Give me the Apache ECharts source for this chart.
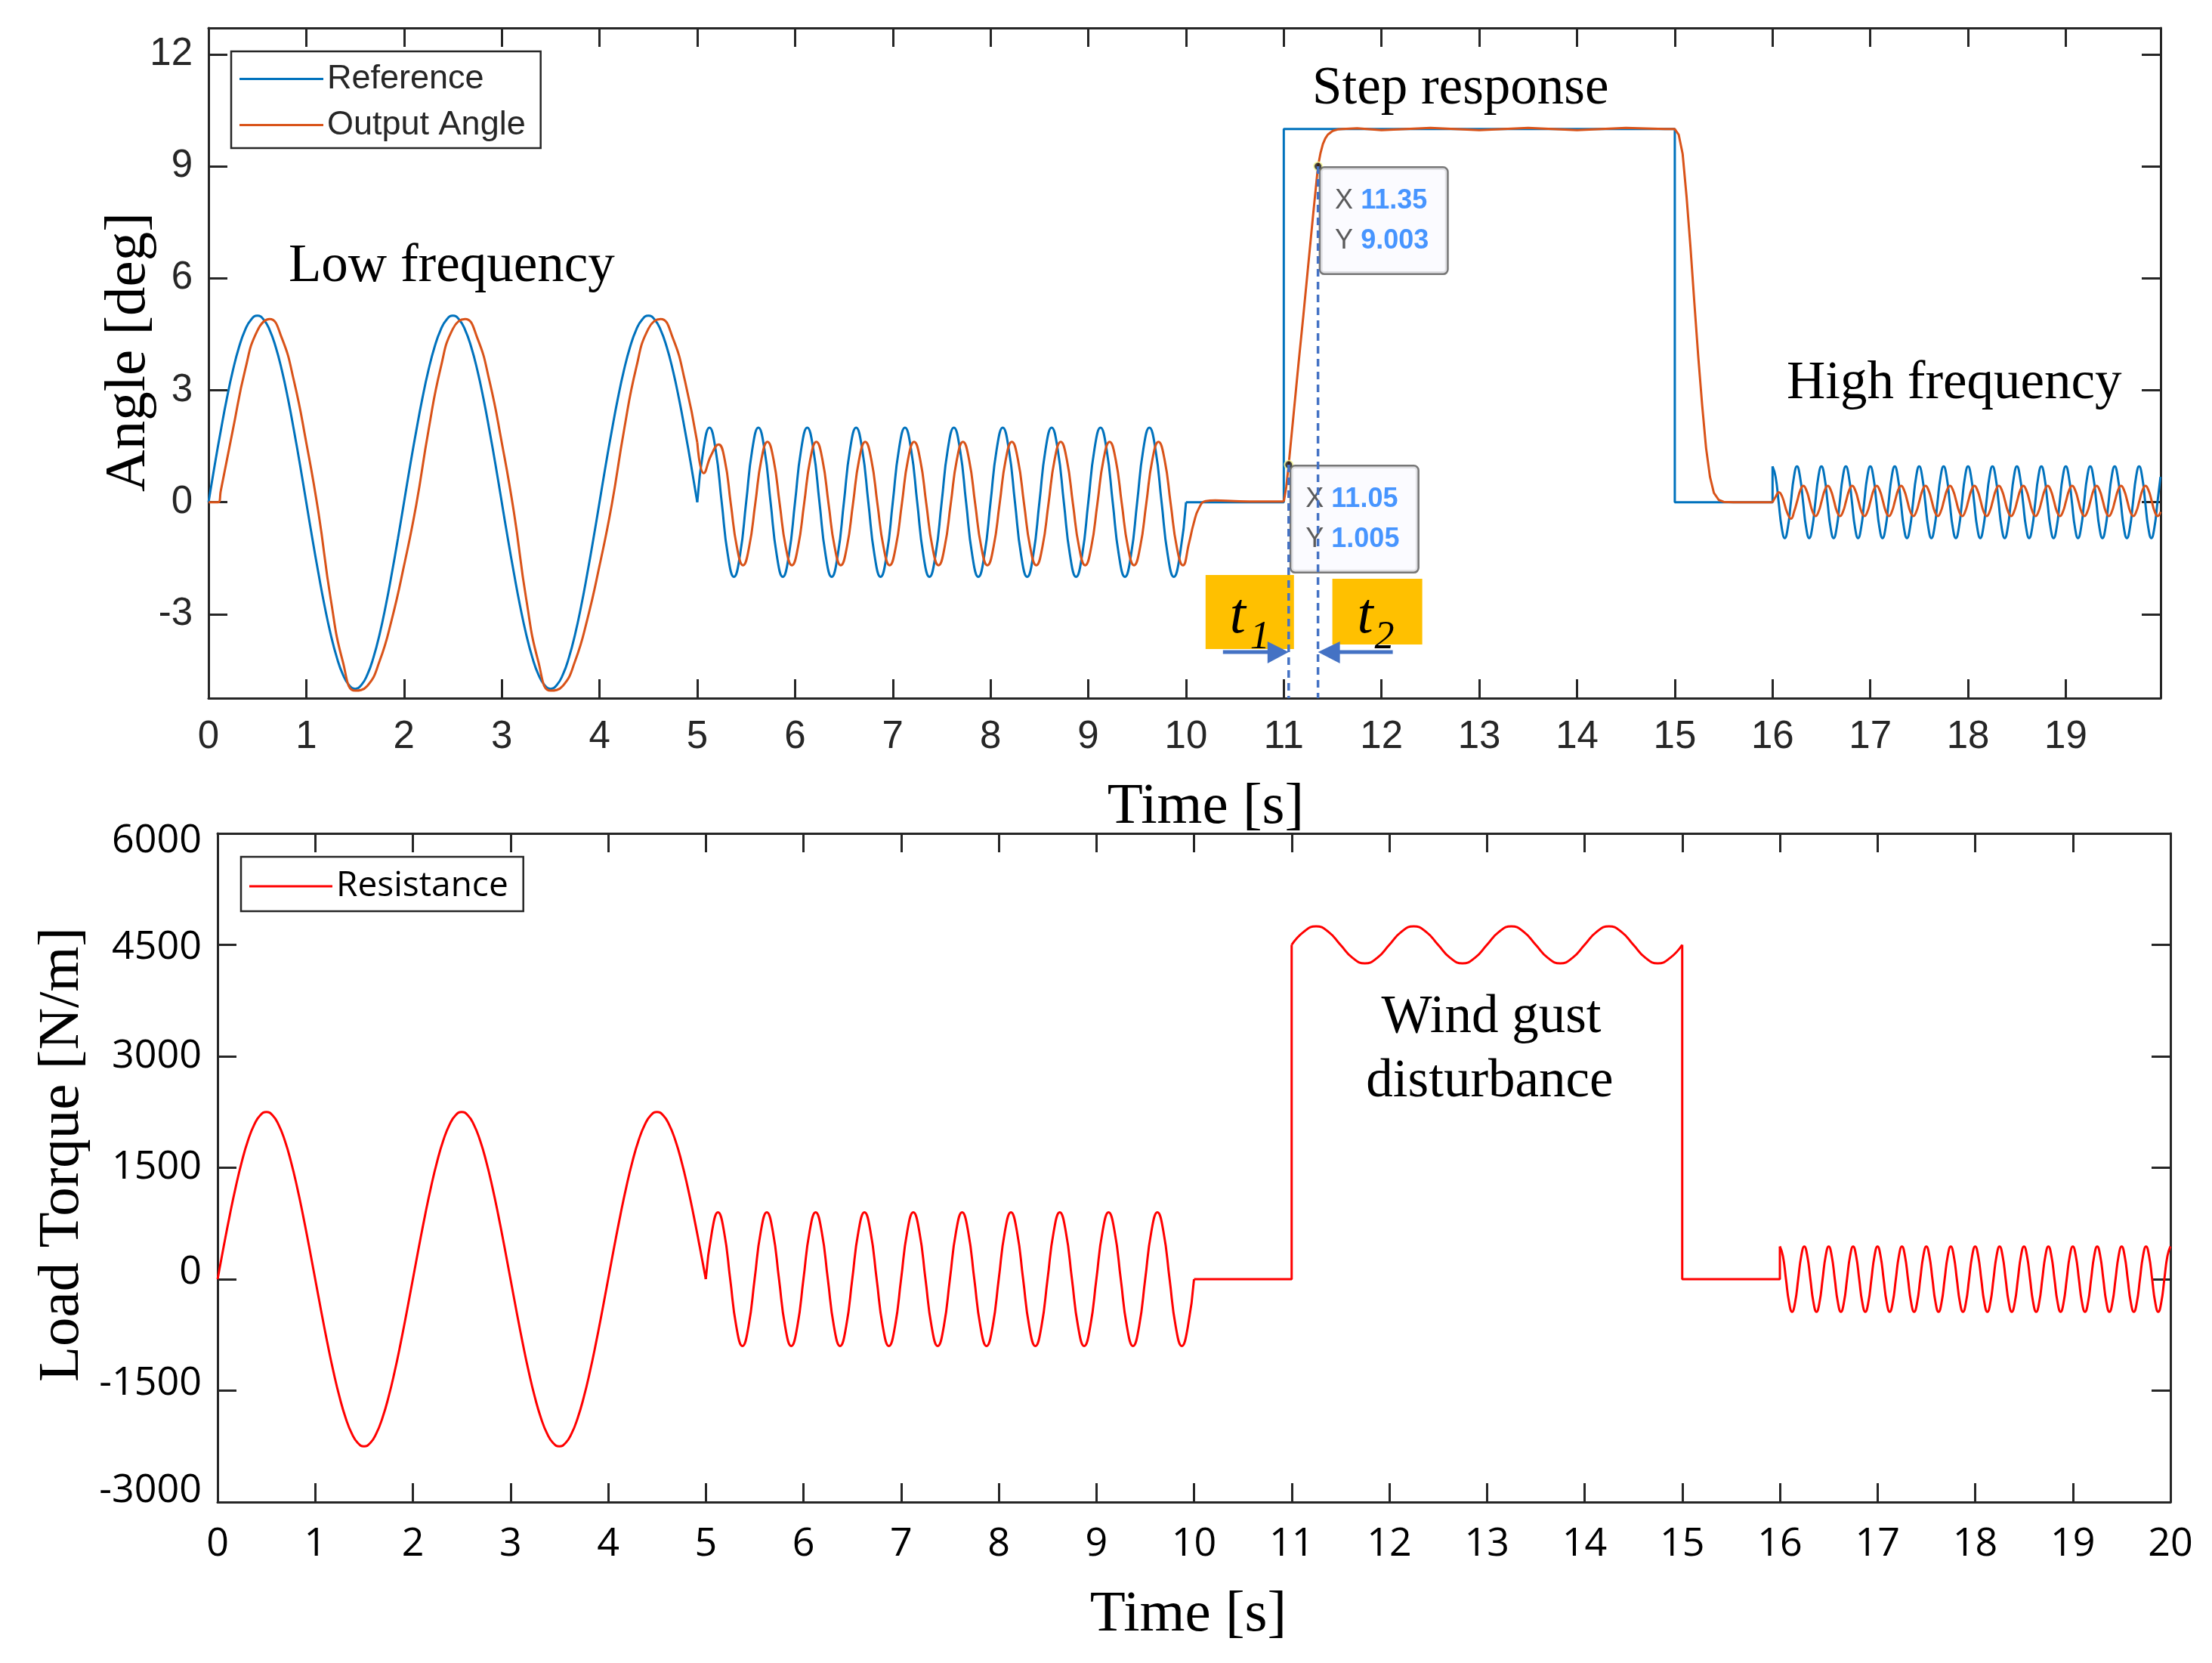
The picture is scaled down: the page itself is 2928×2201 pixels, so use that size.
<!DOCTYPE html>
<html><head><meta charset="utf-8">
<script src="https://cdn.jsdelivr.net/npm/echarts@6/dist/echarts.min.js"></script>
<style>html,body{margin:0;padding:0;background:#fff}#c{width:2928px;height:2201px}</style>
</head><body><div id="c"></div>
<script>
// ---------- shared time grids ----------
const tLow = [0,0.0625,0.125,0.1875,0.25,0.3125,0.375,0.4375,
0.5,0.5625,0.625,0.6875,0.75,0.8125,0.875,0.9375,
1,1.0625,1.125,1.1875,1.25,1.3125,1.375,1.4375,
1.5,1.5625,1.625,1.6875,1.75,1.8125,1.875,1.9375,
2,2.0625,2.125,2.1875,2.25,2.3125,2.375,2.4375,
2.5,2.5625,2.625,2.6875,2.75,2.8125,2.875,2.9375,
3,3.0625,3.125,3.1875,3.25,3.3125,3.375,3.4375,
3.5,3.5625,3.625,3.6875,3.75,3.8125,3.875,3.9375,
4,4.0625,4.125,4.1875,4.25,4.3125,4.375,4.4375,
4.5,4.5625,4.625,4.6875,4.75,4.8125,4.875,4.9375,
5];
const tMid = [5,5.0625,5.125,5.1875,5.25,5.3125,5.375,5.4375,
5.5,5.5625,5.625,5.6875,5.75,5.8125,5.875,5.9375,
6,6.0625,6.125,6.1875,6.25,6.3125,6.375,6.4375,
6.5,6.5625,6.625,6.6875,6.75,6.8125,6.875,6.9375,
7,7.0625,7.125,7.1875,7.25,7.3125,7.375,7.4375,
7.5,7.5625,7.625,7.6875,7.75,7.8125,7.875,7.9375,
8,8.0625,8.125,8.1875,8.25,8.3125,8.375,8.4375,
8.5,8.5625,8.625,8.6875,8.75,8.8125,8.875,8.9375,
9,9.0625,9.125,9.1875,9.25,9.3125,9.375,9.4375,
9.5,9.5625,9.625,9.6875,9.75,9.8125,9.875,9.9375,
10];
const tHigh = [16,16.03125,16.0625,16.09375,16.125,16.15625,16.1875,16.21875,
16.25,16.28125,16.3125,16.34375,16.375,16.40625,16.4375,16.46875,
16.5,16.53125,16.5625,16.59375,16.625,16.65625,16.6875,16.71875,
16.75,16.78125,16.8125,16.84375,16.875,16.90625,16.9375,16.96875,
17,17.03125,17.0625,17.09375,17.125,17.15625,17.1875,17.21875,
17.25,17.28125,17.3125,17.34375,17.375,17.40625,17.4375,17.46875,
17.5,17.53125,17.5625,17.59375,17.625,17.65625,17.6875,17.71875,
17.75,17.78125,17.8125,17.84375,17.875,17.90625,17.9375,17.96875,
18,18.03125,18.0625,18.09375,18.125,18.15625,18.1875,18.21875,
18.25,18.28125,18.3125,18.34375,18.375,18.40625,18.4375,18.46875,
18.5,18.53125,18.5625,18.59375,18.625,18.65625,18.6875,18.71875,
18.75,18.78125,18.8125,18.84375,18.875,18.90625,18.9375,18.96875,
19,19.03125,19.0625,19.09375,19.125,19.15625,19.1875,19.21875,
19.25,19.28125,19.3125,19.34375,19.375,19.40625,19.4375,19.46875,
19.5,19.53125,19.5625,19.59375,19.625,19.65625,19.6875,19.71875,
19.75,19.78125,19.8125,19.84375,19.875,19.90625,19.9375,19.96875,
20];
const tGust = [11,11.125,11.25,11.375,11.5,11.625,11.75,11.875,12,12.125,12.25,12.375,12.5,12.625,12.75,12.875,13,13.125,13.25,13.375,13.5,13.625,13.75,13.875,14,14.125,14.25,14.375,14.5,14.625,14.75,14.875,15];

// ---------- Reference [deg] ----------
const refLowY = [0,0.98,1.91,2.78,3.54,4.16,4.62,4.9,5,4.9,4.62,4.16,3.54,2.78,1.91,0.98,
0,-0.98,-1.91,-2.78,-3.54,-4.16,-4.62,-4.9,-5,-4.9,-4.62,-4.16,-3.54,-2.78,-1.91,-0.98,
0,0.98,1.91,2.78,3.54,4.16,4.62,4.9,5,4.9,4.62,4.16,3.54,2.78,1.91,0.98,
0,-0.98,-1.91,-2.78,-3.54,-4.16,-4.62,-4.9,-5,-4.9,-4.62,-4.16,-3.54,-2.78,-1.91,-0.98,
0,0.98,1.91,2.78,3.54,4.16,4.62,4.9,5,4.9,4.62,4.16,3.54,2.78,1.91,0.98,
0];
const refMidY = [0,1.41,2,1.41,0,-1.41,-2,-1.41, 0,1.41,2,1.41,0,-1.41,-2,-1.41,
0,1.41,2,1.41,0,-1.41,-2,-1.41, 0,1.41,2,1.41,0,-1.41,-2,-1.41,
0,1.41,2,1.41,0,-1.41,-2,-1.41, 0,1.41,2,1.41,0,-1.41,-2,-1.41,
0,1.41,2,1.41,0,-1.41,-2,-1.41, 0,1.41,2,1.41,0,-1.41,-2,-1.41,
0,1.41,2,1.41,0,-1.41,-2,-1.41, 0,1.41,2,1.41,0,-1.41,-2,-1.41, 0];
const refStepT = [10,11,11,15,15,16,16];
const refStepY = [0,0,10,10,0,0,0.96];
const refHighY = [0.96,0.68,0,-0.68,-0.96,-0.68,0,0.68, 0.96,0.68,0,-0.68,-0.96,-0.68,0,0.68,
0.96,0.68,0,-0.68,-0.96,-0.68,0,0.68, 0.96,0.68,0,-0.68,-0.96,-0.68,0,0.68,
0.96,0.68,0,-0.68,-0.96,-0.68,0,0.68, 0.96,0.68,0,-0.68,-0.96,-0.68,0,0.68,
0.96,0.68,0,-0.68,-0.96,-0.68,0,0.68, 0.96,0.68,0,-0.68,-0.96,-0.68,0,0.68,
0.96,0.68,0,-0.68,-0.96,-0.68,0,0.68, 0.96,0.68,0,-0.68,-0.96,-0.68,0,0.68,
0.96,0.68,0,-0.68,-0.96,-0.68,0,0.68, 0.96,0.68,0,-0.68,-0.96,-0.68,0,0.68,
0.96,0.68,0,-0.68,-0.96,-0.68,0,0.68, 0.96,0.68,0,-0.68,-0.96,-0.68,0,0.68,
0.96,0.68,0,-0.68,-0.96,-0.68,0,0.68, 0.96,0.68,0,-0.68,-0.96,-0.68,0,0.68];

// ---------- Output Angle [deg] ----------
const outLowT = [0,0.1,0.125,0.25,0.375,0.5,0.625,0.75,0.875,1,1.125,1.25,1.375,1.5,1.625,1.75,1.875,2,2.125,2.25,2.375,2.5,2.625,2.75,2.875,3,3.125,3.25,3.375,3.5,3.625,3.75,3.875,4,4.125,4.25,4.375,4.5,4.625,4.75,4.875,5];
const outLowY = [0,0,0.3,1.95,3.55,4.6,4.91,4.4,3.24,1.6,-0.28,-2.59,-4.28,-5.05,-4.92,-4.26,-3.14,-1.7,-0.07,1.92,3.6,4.65,4.91,4.4,3.24,1.6,-0.28,-2.59,-4.28,-5.05,-4.92,-4.26,-3.14,-1.7,-0.07,1.92,3.6,4.65,4.91,4.4,3.24,1.6];
const outMidT = [5,5.067,5.14,5.218,
5.2805,5.343,5.4055,5.468,5.5305,5.593,5.6555,5.718,
5.7805,5.843,5.9055,5.968,6.0305,6.093,6.1555,6.218,
6.2805,6.343,6.4055,6.468,6.5305,6.593,6.6555,6.718,
6.7805,6.843,6.9055,6.968,7.0305,7.093,7.1555,7.218,
7.2805,7.343,7.4055,7.468,7.5305,7.593,7.6555,7.718,
7.7805,7.843,7.9055,7.968,8.0305,8.093,8.1555,8.218,
8.2805,8.343,8.4055,8.468,8.5305,8.593,8.6555,8.718,
8.7805,8.843,8.9055,8.968,9.0305,9.093,9.1555,9.218,
9.2805,9.343,9.4055,9.468,9.5305,9.593,9.6555,9.718,
9.7805,9.843,9.9055,9.968,
10.03,10.08,10.13,10.2,10.3,10.5,10.75,11];
const outMidY = [1.6,0.78,1.25,1.55,
1.14,-0.04,-1.2,-1.69,-1.2,-0.04,1.14,1.62,
1.14,-0.04,-1.2,-1.69,-1.2,-0.04,1.14,1.62,
1.14,-0.04,-1.2,-1.69,-1.2,-0.04,1.14,1.62,
1.14,-0.04,-1.2,-1.69,-1.2,-0.04,1.14,1.62,
1.14,-0.04,-1.2,-1.69,-1.2,-0.04,1.14,1.62,
1.14,-0.04,-1.2,-1.69,-1.2,-0.04,1.14,1.62,
1.14,-0.04,-1.2,-1.69,-1.2,-0.04,1.14,1.62,
1.14,-0.04,-1.2,-1.69,-1.2,-0.04,1.14,1.62,
1.14,-0.04,-1.2,-1.69,-1.2,-0.04,1.14,1.62,
1.14,-0.04,-1.2,-1.69,
-1.1,-0.55,-0.17,0.03,0.05,0.03,0.02,0.02];
const outStepT = [11,11.025,11.05,11.1,11.15,11.2,11.25,11.3,11.35,11.375,11.4,11.425,11.45,11.5,11.55,11.6,11.75,12,12.5,13,13.5,14,14.5,14.9,15,15.04,15.08,15.12,15.16,15.2,15.24,15.28,15.32,15.36,15.4,15.45,15.5,15.6,16];
const outStepY = [0.02,0.4,1.005,2.35,3.7,5.0,6.35,7.7,9.003,9.35,9.6,9.75,9.85,9.95,9.99,10.0,10.02,9.97,10.03,9.97,10.03,9.97,10.03,10.0,10.0,9.85,9.34,8.2,6.85,5.35,3.9,2.6,1.45,0.68,0.25,0.06,0.01,0,0];
const outHighT = [16,16.03,16.065,16.1,16.15,
16.19,16.221,16.253,16.284,16.315,16.346,16.378,16.409,
16.44,16.471,16.503,16.534,16.565,16.596,16.628,16.659,
16.69,16.721,16.753,16.784,16.815,16.846,16.878,16.909,
16.94,16.971,17.003,17.034,17.065,17.096,17.128,17.159,
17.19,17.221,17.253,17.284,17.315,17.346,17.378,17.409,
17.44,17.471,17.503,17.534,17.565,17.596,17.628,17.659,
17.69,17.721,17.753,17.784,17.815,17.846,17.878,17.909,
17.94,17.971,18.003,18.034,18.065,18.096,18.128,18.159,
18.19,18.221,18.253,18.284,18.315,18.346,18.378,18.409,
18.44,18.471,18.503,18.534,18.565,18.596,18.628,18.659,
18.69,18.721,18.753,18.784,18.815,18.846,18.878,18.909,
18.94,18.971,19.003,19.034,19.065,19.096,19.128,19.159,
19.19,19.221,19.253,19.284,19.315,19.346,19.378,19.409,
19.44,19.471,19.503,19.534,19.565,19.596,19.628,19.659,
19.69,19.721,19.753,19.784,19.815,19.846,19.878,19.909,
19.94,19.97];
const outHighY = [0,0.14,0.27,0.14,-0.28,
-0.44,-0.25,0.04,0.32,0.44,0.32,0.04,-0.25,
-0.37,-0.25,0.04,0.32,0.44,0.32,0.04,-0.25,
-0.37,-0.25,0.04,0.32,0.44,0.32,0.04,-0.25,
-0.37,-0.25,0.04,0.32,0.44,0.32,0.04,-0.25,
-0.37,-0.25,0.04,0.32,0.44,0.32,0.04,-0.25,
-0.37,-0.25,0.04,0.32,0.44,0.32,0.04,-0.25,
-0.37,-0.25,0.04,0.32,0.44,0.32,0.04,-0.25,
-0.37,-0.25,0.04,0.32,0.44,0.32,0.04,-0.25,
-0.37,-0.25,0.04,0.32,0.44,0.32,0.04,-0.25,
-0.37,-0.25,0.04,0.32,0.44,0.32,0.04,-0.25,
-0.37,-0.25,0.04,0.32,0.44,0.32,0.04,-0.25,
-0.37,-0.25,0.04,0.32,0.44,0.32,0.04,-0.25,
-0.37,-0.25,0.04,0.32,0.44,0.32,0.04,-0.25,
-0.37,-0.25,0.04,0.32,0.44,0.32,0.04,-0.25,
-0.37,-0.25,0.04,0.32,0.44,0.32,0.04,-0.25,
-0.37,-0.26];

// ---------- data tips ----------
const tipX = [11.05, 11.35];
const tipY = [1.005, 9.003];

// ---------- Load torque (Resistance) [N/m] ----------
const torqueLowY = [0,439,861,1250,1591,1871,2079,2207,2250,2207,2079,1871,1591,1250,861,439,
0,-439,-861,-1250,-1591,-1871,-2079,-2207,-2250,-2207,-2079,-1871,-1591,-1250,-861,-439,
0,439,861,1250,1591,1871,2079,2207,2250,2207,2079,1871,1591,1250,861,439,
0,-439,-861,-1250,-1591,-1871,-2079,-2207,-2250,-2207,-2079,-1871,-1591,-1250,-861,-439,
0,439,861,1250,1591,1871,2079,2207,2250,2207,2079,1871,1591,1250,861,439,
0];
const torqueMidY = [0,636,900,636,0,-636,-900,-636, 0,636,900,636,0,-636,-900,-636,
0,636,900,636,0,-636,-900,-636, 0,636,900,636,0,-636,-900,-636,
0,636,900,636,0,-636,-900,-636, 0,636,900,636,0,-636,-900,-636,
0,636,900,636,0,-636,-900,-636, 0,636,900,636,0,-636,-900,-636,
0,636,900,636,0,-636,-900,-636, 0,636,900,636,0,-636,-900,-636, 0];
const torqueStep1T = [10,11,11];
const torqueStep1Y = [0,0,4500];
const torqueGustY = [4500,4677,4750,4677,4500,4323,4250,4323, 4500,4677,4750,4677,4500,4323,4250,4323,
4500,4677,4750,4677,4500,4323,4250,4323, 4500,4677,4750,4677,4500,4323,4250,4323, 4500];
const torqueStep2T = [15,15,16,16];
const torqueStep2Y = [4500,0,0,440];
const torqueHighY = [440,311,0,-311,-440,-311,0,311, 440,311,0,-311,-440,-311,0,311,
440,311,0,-311,-440,-311,0,311, 440,311,0,-311,-440,-311,0,311,
440,311,0,-311,-440,-311,0,311, 440,311,0,-311,-440,-311,0,311,
440,311,0,-311,-440,-311,0,311, 440,311,0,-311,-440,-311,0,311,
440,311,0,-311,-440,-311,0,311, 440,311,0,-311,-440,-311,0,311,
440,311,0,-311,-440,-311,0,311, 440,311,0,-311,-440,-311,0,311,
440,311,0,-311,-440,-311,0,311, 440,311,0,-311,-440,-311,0,311,
440,311,0,-311,-440,-311,0,311, 440,311,0,-311,-440,-311,0,311, 440];

// ---------- tick labels ----------
const topXTicks = [0,1,2,3,4,5,6,7,8,9,10,11,12,13,14,15,16,17,18,19];
const topYTicks = [-3,0,3,6,9,12];
const botXTicks = [0,1,2,3,4,5,6,7,8,9,10,11,12,13,14,15,16,17,18,19,20];
const botYTicks = [-3000,-1500,0,1500,3000,4500,6000];

// ---------- build ----------
function zip(t, y) { const n = Math.min(t.length, y.length); const o = []; for (let i = 0; i < n; i++) o.push([t[i], y[i]]); return o; }

const BLUE = '#0072BD', ORANGE = '#D95319', RED = '#FF0000', AX = '#262626';

function lineSeries(name, data, color, smooth, xi, yi, extra) {
  return Object.assign({
    type: 'line', name: name, data: data, smooth: smooth ? 0.5 : false,
    symbol: 'none', showSymbol: false, xAxisIndex: xi, yAxisIndex: yi,
    lineStyle: { color: color, width: 3 }, itemStyle: { color: color },
    emphasis: { disabled: true }, silent: true, animation: false, z: 2
  }, extra || {});
}

function axisLineCfg() { return { show: true, onZero: false, lineStyle: { color: AX, width: 3 } }; }
function tickCfg(vals) { return { show: true, inside: true, length: 25, customValues: vals, lineStyle: { color: AX, width: 3 } }; }

// label nudges of the lower y axis (as placed in the original figure)
const botYLabelStyle = { '6000': 'd21', '4500': 'd7', '0': 'u17', '-1500': 'u19', '-3000': 'u30' };

const option = {
  backgroundColor: '#ffffff',
  animation: false,
  grid: [
    { left: 276, top: 37, width: 2584, height: 887, containLabel: false },
    { left: 288, top: 1103, width: 2585, height: 885, containLabel: false }
  ],
  xAxis: [
    { gridIndex: 0, type: 'value', min: 0, max: 19.97, position: 'bottom',
      axisLine: axisLineCfg(), axisTick: tickCfg(topXTicks), splitLine: { show: false },
      axisLabel: { show: true, customValues: topXTicks, margin: 26, fontFamily: 'Liberation Sans', fontSize: 51, color: '#262626', formatter: v => String(v) },
      name: 'Time [s]', nameLocation: 'middle', nameGap: 106, nameMoveOverlap: false,
      nameTextStyle: { fontFamily: 'Liberation Serif', fontSize: 77, color: '#000', padding: [0, 0, 0, 56] } },
    { gridIndex: 0, type: 'value', min: 0, max: 19.97, position: 'top',
      axisLine: axisLineCfg(), axisTick: tickCfg(topXTicks), splitLine: { show: false }, axisLabel: { show: false } },
    { gridIndex: 1, type: 'value', min: 0, max: 20, position: 'bottom',
      axisLine: axisLineCfg(), axisTick: tickCfg(botXTicks), splitLine: { show: false },
      axisLabel: { show: true, customValues: botXTicks, margin: 30, fontFamily: 'Open Sans', fontSize: 52, color: '#000', formatter: v => String(v) },
      name: 'Time [s]', nameLocation: 'middle', nameGap: 111, nameMoveOverlap: false,
      nameTextStyle: { fontFamily: 'Liberation Serif', fontSize: 77, color: '#000', padding: [0, 15, 0, 0] } },
    { gridIndex: 1, type: 'value', min: 0, max: 20, position: 'top',
      axisLine: axisLineCfg(), axisTick: tickCfg(botXTicks), splitLine: { show: false }, axisLabel: { show: false } }
  ],
  yAxis: [
    { gridIndex: 0, type: 'value', min: -5.25, max: 12.71, position: 'left',
      axisLine: axisLineCfg(), axisTick: tickCfg(topYTicks), splitLine: { show: false },
      axisLabel: { show: true, customValues: topYTicks, margin: 21, fontFamily: 'Liberation Sans', fontSize: 51, color: '#262626', formatter: v => String(v) },
      name: 'Angle [deg]', nameLocation: 'middle', nameGap: 67, nameMoveOverlap: false,
      nameTextStyle: { fontFamily: 'Liberation Serif', fontSize: 77, color: '#000', padding: [0, 0, 0, 29] } },
    { gridIndex: 0, type: 'value', min: -5.25, max: 12.71, position: 'right',
      axisLine: axisLineCfg(), axisTick: tickCfg(topYTicks), splitLine: { show: false }, axisLabel: { show: false } },
    { gridIndex: 1, type: 'value', min: -3000, max: 6000, position: 'left',
      axisLine: axisLineCfg(), axisTick: tickCfg(botYTicks), splitLine: { show: false },
      axisLabel: { show: true, customValues: botYTicks, margin: 21, fontFamily: 'Open Sans', fontSize: 52, color: '#000',
        formatter: v => { const s = botYLabelStyle[String(v)]; return s ? '{' + s + '|' + String(v) + '}' : String(v); },
        rich: { d21: { padding: [21, 0, 0, 0] }, d7: { padding: [7, 0, 0, 0] }, u17: { padding: [0, 0, 17, 0] }, u19: { padding: [0, 0, 19, 0] }, u30: { padding: [0, 0, 30, 0] } } },
      name: 'Load Torque [N/m]', nameLocation: 'middle', nameGap: 167, nameMoveOverlap: false,
      nameTextStyle: { fontFamily: 'Liberation Serif', fontSize: 77, color: '#000', padding: [0, 0, 0, 35] } },
    { gridIndex: 1, type: 'value', min: -3000, max: 6000, position: 'right',
      axisLine: axisLineCfg(), axisTick: tickCfg(botYTicks), splitLine: { show: false }, axisLabel: { show: false } }
  ],
  legend: [
    { data: [{ name: 'Reference', icon: 'rect' }, { name: 'Output Angle', icon: 'rect' }], orient: 'vertical', left: 306, top: 68,
      itemWidth: 111, itemHeight: 3, itemGap: 16, padding: [14, 20, 8, 11],
      borderColor: AX, borderWidth: 2.5, backgroundColor: '#fff', selectedMode: false,
      textStyle: { fontFamily: 'Liberation Sans', fontSize: 45, color: '#262626', lineHeight: 45 } },
    { data: [{ name: 'Resistance', icon: 'rect' }], orient: 'vertical', left: 319, top: 1134,
      itemWidth: 110, itemHeight: 3, padding: [16, 20, 10, 11],
      borderColor: AX, borderWidth: 2.5, backgroundColor: '#fff', selectedMode: false,
      textStyle: { fontFamily: 'Open Sans', fontSize: 46, color: '#000', lineHeight: 46 } }
  ],
  series: [
    lineSeries('Reference', zip(tLow, refLowY), BLUE, true, 0, 0),
    lineSeries('Reference', zip(tMid, refMidY), BLUE, true, 0, 0),
    lineSeries('Reference', zip(refStepT, refStepY), BLUE, false, 0, 0),
    lineSeries('Reference', zip(tHigh, refHighY), BLUE, true, 0, 0),
    lineSeries('Output Angle', zip(outLowT, outLowY), ORANGE, true, 0, 0),
    lineSeries('Output Angle', zip(outMidT, outMidY), ORANGE, true, 0, 0),
    lineSeries('Output Angle', zip(outStepT, outStepY), ORANGE, false, 0, 0),
    lineSeries('Output Angle', zip(outHighT, outHighY), ORANGE, true, 0, 0),
    { type: 'scatter', name: 'tips', xAxisIndex: 0, yAxisIndex: 0, z: 5, silent: true,
      data: zip(tipX, tipY), symbol: 'circle', symbolSize: 11,
      itemStyle: { color: '#111', borderColor: '#ffffa0', borderWidth: 2 },
      emphasis: { disabled: true },
      label: { show: true, position: [10, 9], align: 'left', verticalAlign: 'top',
        formatter: p => '{k|X }{v|' + String(tipX[p.dataIndex]) + '}\n{k|Y }{v|' + String(tipY[p.dataIndex]) + '}',
        backgroundColor: '#FAFAFF', borderColor: '#555', borderWidth: 2.5, borderRadius: 5,
        padding: [17, 24, 16, 19], lineHeight: 53,
        rich: { k: { fontFamily: 'Liberation Sans', fontSize: 36, color: '#333', lineHeight: 53 },
                v: { fontFamily: 'Liberation Sans', fontSize: 36, fontWeight: 'bold', color: '#1a7cff', lineHeight: 53 } } } },
    lineSeries('tip1', [[tipX[0], tipY[0]], [tipX[0], -5.25]], '#4472C4', false, 0, 0, { z: 6, lineStyle: { color: '#4472C4', width: 3.5, type: [10, 7] } }),
    lineSeries('tip2', [[tipX[1], tipY[1]], [tipX[1], -5.25]], '#4472C4', false, 0, 0, { z: 6, lineStyle: { color: '#4472C4', width: 3.5, type: [10, 7] } }),
    lineSeries('Resistance', zip(tLow, torqueLowY), RED, true, 2, 2),
    lineSeries('Resistance', zip(tMid, torqueMidY), RED, true, 2, 2),
    lineSeries('Resistance', zip(torqueStep1T, torqueStep1Y), RED, false, 2, 2),
    lineSeries('Resistance', zip(tGust, torqueGustY), RED, true, 2, 2),
    lineSeries('Resistance', zip(torqueStep2T, torqueStep2Y), RED, false, 2, 2),
    lineSeries('Resistance', zip(tHigh, torqueHighY), RED, true, 2, 2)
  ]
};

const chart = echarts.init(document.getElementById('c'), null, { renderer: 'canvas', width: 2928, height: 2201 });
chart.setOption(option);

const x1 = chart.convertToPixel({ xAxisIndex: 0 }, tipX[0]);
const x2 = chart.convertToPixel({ xAxisIndex: 0 }, tipX[1]);
const AR = '#4472C4', GOLD = '#FFC000';
function txt(x, y, s, font, align) {
  return { type: 'text', x: x, y: y, z: 20, silent: true,
    style: { text: s, font: font, fill: '#000', textAlign: align || 'left', verticalAlign: 'middle', textVerticalAlign: 'middle' } };
}
chart.setOption({
  graphic: [
    { type: 'rect', z: 0, silent: true, shape: { x: x1 - 110, y: 761, width: 117, height: 98 }, style: { fill: GOLD } },
    { type: 'rect', z: 0, silent: true, shape: { x: x2 + 19, y: 766, width: 119, height: 87 }, style: { fill: GOLD } },
    { type: 'line', z: 1, silent: true, shape: { x1: x1 - 87, y1: 863, x2: x1 - 26, y2: 863 }, style: { stroke: AR, lineWidth: 5 } },
    { type: 'polygon', z: 1, silent: true, shape: { points: [[x1 - 28, 849], [x1, 863], [x1 - 28, 878]] }, style: { fill: AR } },
    { type: 'line', z: 1, silent: true, shape: { x1: x2 + 27, y1: 863, x2: x2 + 99, y2: 863 }, style: { stroke: AR, lineWidth: 5 } },
    { type: 'polygon', z: 1, silent: true, shape: { points: [[x2 + 29, 849], [x2, 863], [x2 + 29, 878]] }, style: { fill: AR } },
    txt(x1 - 78, 817, 't', 'italic 76px "Liberation Serif"'),
    txt(x1 - 51, 844, '1', 'italic 52px "Liberation Serif"'),
    txt(x2 + 52, 817, 't', 'italic 76px "Liberation Serif"'),
    txt(x2 + 75, 844, '2', 'italic 52px "Liberation Serif"'),
    txt(382, 353, 'Low frequency', '71px "Liberation Serif"'),
    txt(1737, 118, 'Step response', '71px "Liberation Serif"'),
    txt(2365, 508, 'High frequency', '71px "Liberation Serif"'),
    txt(1974, 1347, 'Wind gust', '71px "Liberation Serif"', 'center'),
    txt(1972, 1432, 'disturbance', '71px "Liberation Serif"', 'center')
  ]
});
</script></body></html>
